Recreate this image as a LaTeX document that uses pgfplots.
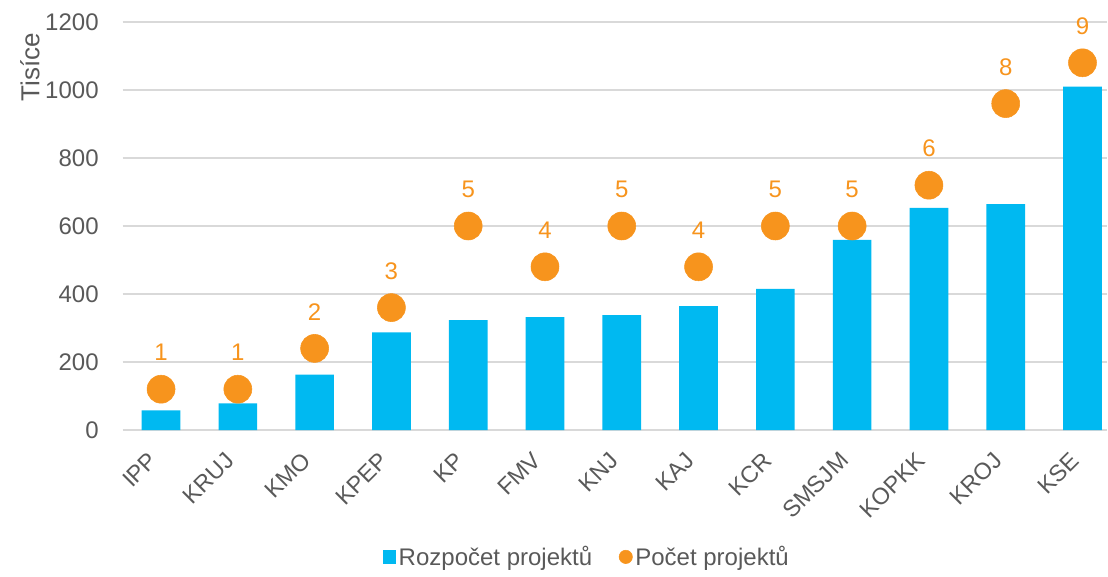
\documentclass[border=0pt]{standalone}
\usepackage{fontspec}
\setmainfont{Liberation Sans}
\usepackage{pgfplots}
\pgfplotsset{compat=1.18}
\usepackage{pgfplotstable}
\definecolor{barblue}{HTML}{00B9F1}
\definecolor{dotorange}{HTML}{F7941D}
\definecolor{txtgray}{HTML}{595959}
\definecolor{gridgray}{HTML}{D9D9D9}
\pgfplotstableread{
x y
0 58
1 78
2 163
3 287
4 323
5 332
6 338
7 364
8 415
9 559
10 653
11 664
12 1010
}\budget
\pgfplotstableread{
x y n
0 120 1
1 120 1
2 240 2
3 360 3
4 600 5
5 480 4
6 600 5
7 480 4
8 600 5
9 600 5
10 720 6
11 960 8
12 1080 9
}\counts
\begin{document}
\begin{tikzpicture}
\useasboundingbox (-92pt,-109.5pt) rectangle (739pt,322.5pt);
\begin{axis}[
  scale only axis,
  width=738.3pt, height=306pt,
  xmin=-0.5, xmax=12.32,
  ymin=0, ymax=1200,
  ytick={0,200,...,1200},
  xtick={0,...,12},
  xticklabels={IPP,KRUJ,KMO,KPEP,KP,FMV,KNJ,KAJ,KCR,SMSJM,KOPKK,KROJ,KSE},
  xticklabel style={rotate=45, anchor=north east, font=\fontsize{17.5}{20}\selectfont, text=txtgray, inner sep=1pt, xshift=-17pt, yshift=-2.5pt},
  yticklabel style={font=\fontsize{18}{20}\selectfont, text=txtgray, xshift=-14.5pt},
  /pgf/number format/assume math mode=true,
  /pgf/number format/1000 sep={},
  ymajorgrids, grid style={gridgray, line width=1.1pt},
  axis line style={draw=none},
  major tick length=0pt,
  clip=false,
  legend style={at={(0.4718,-0.311)}, anchor=center, draw=none, fill=none,
    legend columns=2, font=\fontsize{18}{20}\selectfont, text=txtgray,
    /tikz/every even column/.append style={column sep=18pt}},
  legend cell align=left,
]
\addplot[ybar, bar width=29pt, fill=barblue, draw=none,
  legend image code/.code={\fill[barblue] (0pt,-5pt) rectangle (10pt,5pt);}]
  table[x=x, y=y] {\budget};
\addlegendentry{Rozpočet projektů}
\addplot[only marks, mark=*, mark size=10.5pt, color=dotorange,
  point meta=explicit symbolic,
  nodes near coords,
  every node near coord/.append style={anchor=center, yshift=27.5pt, text=dotorange, font=\fontsize{18}{20}\selectfont},
  legend image code/.code={\fill[dotorange] (5pt,0pt) circle (5pt);}]
  table[x=x, y=y, meta=n] {\counts};
\addlegendentry{Počet projektů}
\end{axis}
\node[rotate=90, text=txtgray, font=\fontsize{19.5}{22}\selectfont] at (-69.5pt,272pt) {Tisíce};
\end{tikzpicture}
\end{document}
